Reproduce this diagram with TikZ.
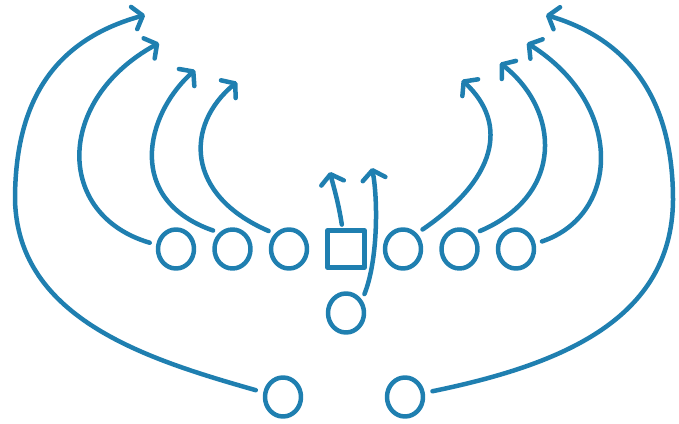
\documentclass[tikz,border=0pt]{standalone}
\usetikzlibrary{arrows.meta,positioning,shapes.geometric}
\definecolor{playblue}{RGB}{31,127,176}

\begin{document}
\begin{tikzpicture}[x=1pt, y=-1pt, color=playblue, line width=4.5pt, line cap=round, line join=round,
  node distance=20.5pt,
  player/.style={ellipse, draw, inner sep=0pt, outer sep=0pt, minimum width=36pt, minimum height=39pt},
  snapper/.style={rectangle, draw, inner sep=0pt, outer sep=0pt, minimum size=37pt},
  route/.style={-{Straight Barb[round, length=9pt, width=23pt]}, shorten <=9pt}]
  \useasboundingbox (0,0) rectangle (679,423);
  % line of scrimmage
  \node[snapper] (C) at (346,249) {};
  \node[player, left=of C] (L3) {};
  \node[player, left=of L3] (L2) {};
  \node[player, left=of L2] (L1) {};
  \node[player, right=of C] (R1) {};
  \node[player, right=of R1] (R2) {};
  \node[player, right=of R2] (R3) {};
  % backfield
  \node[player, below=26pt of C] (QB) {};
  \node[player] (BL) at (283,397) {};
  \node[player] (BR) at (405,397) {};
  % route ends
  \coordinate (tipBL) at (145,15);
  \coordinate (tipL1) at (159,43);
  \coordinate (tipL2) at (195,70);
  \coordinate (tipL3) at (237,82);
  \coordinate (tipR1) at (462,80);
  \coordinate (tipR2) at (500,63);
  \coordinate (tipR3) at (527,43);
  \coordinate (tipBR) at (546,15);
  \coordinate (tipC) at (330,172);
  \coordinate (tipQB) at (372,168);
  % wide routes
  \draw[route, shorten <=10pt] (BL.167) .. controls (150,360) and (18,320) .. (15,200)
    .. controls (15,100) and (55,40) .. (tipBL);
  \draw[route, shorten <=10pt] (BR.12) .. controls (560,365) and (672,320) .. (673,200)
    .. controls (673,100) and (630,40) .. (tipBR);
  % line routes
  \draw[route] (L1.168) .. controls (55,215) and (55,100) .. (tipL1);
  \draw[route] (L2.125) .. controls (125,200) and (145,115) .. (tipL2);
  \draw[route] (L3.130) .. controls (185,195) and (185,125) .. (tipL3);
  \draw[route] (R1.50) .. controls (495,180) and (510,125) .. (tipR1);
  \draw[route] (R2.50) .. controls (565,195) and (560,110) .. (tipR2);
  \draw[route] (R3.15) .. controls (620,215) and (625,105) .. (tipR3);
  % middle
  \draw[route, shorten <=6pt] (C.100) .. controls (338,200) and (333,185) .. (tipC);
  \draw[route] (QB.35) .. controls (378,260) and (378,200) .. (tipQB);
\end{tikzpicture}
\end{document}
